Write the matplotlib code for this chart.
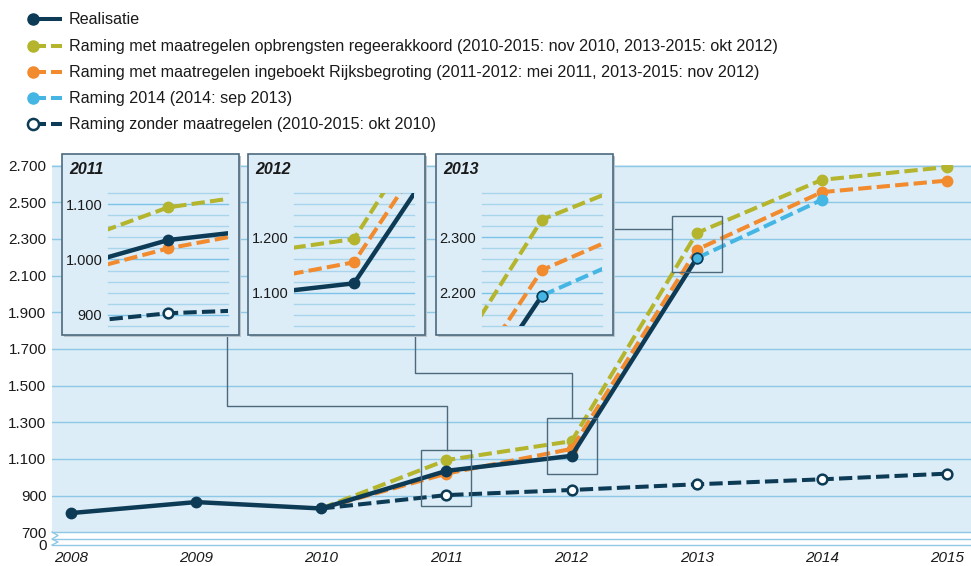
import matplotlib.pyplot as plt
from matplotlib.lines import Line2D
from matplotlib.patches import Rectangle

plt.rcParams['font.family'] = ['Liberation Sans Narrow', 'Liberation Sans', 'DejaVu Sans']

W, H = 971, 566

# --- data ---
jaren = [2008, 2009, 2010, 2011, 2012, 2013, 2014, 2015]
realisatie = [805, 865, 830, 1035, 1117, 2195]           # 2008-2013
regeerakkoord = [830, 1094, 1197, 2332, 2622, 2692]      # 2010-2015
rijksbegroting = [830, 1020, 1155, 2241, 2555, 2618]     # 2010-2015
raming_2014 = [2195, 2513]                               # 2013-2014
zonder = [830, 903, 931, 962, 989, 1020]                 # 2010-2015

legend_labels = [
    'Realisatie',
    'Raming met maatregelen opbrengsten regeerakkoord (2010-2015: nov 2010, 2013-2015: okt 2012)',
    'Raming met maatregelen ingeboekt Rijksbegroting (2011-2012: mei 2011, 2013-2015: nov 2012)',
    'Raming 2014 (2014: sep 2013)',
    'Raming zonder maatregelen (2010-2015: okt 2010)',
]
y_ticks = [700, 900, 1100, 1300, 1500, 1700, 1900, 2100, 2300, 2500, 2700]
inset_years = [2011, 2012, 2013]
inset_ylims = [(880, 1120), (1040, 1280), (2140, 2380)]
inset_labels = [[900, 1000, 1100], [1100, 1200], [2200, 2300]]
zoom_centers = [996, 1171, 2274]

NAVY = '#0d3b56'
GREEN = '#b4b52c'
ORANGE = '#f28a2e'
CYAN = '#45b6e4'
BG = '#dcedf7'
GRID = '#8fc8e6'
FRAME = '#4d6a7d'
LW = 2.9
DASH = (0, (3.3, 1.3))


def fmt(v):
    return f'{v:,}'.replace(',', '.')


def px(x, y):
    return x / W, 1 - y / H


def axes_px(fig, l, t, r, b):
    return fig.add_axes([l / W, 1 - b / H, (r - l) / W, (b - t) / H])


def draw_series(ax):
    ax.plot(jaren[2:], regeerakkoord, color=GREEN, lw=LW, ls=DASH, marker='o',
            ms=7.5, markevery=[1, 2, 3, 4, 5], zorder=3)
    ax.plot(jaren[2:], rijksbegroting, color=ORANGE, lw=LW, ls=DASH, marker='o',
            ms=7.5, markevery=[1, 2, 3, 4, 5], zorder=4)
    ax.plot(jaren[:6], realisatie, color=NAVY, lw=LW + 0.3, marker='o', ms=7.5,
            solid_capstyle='butt', zorder=5)
    ax.plot(jaren[2:], zonder, color=NAVY, lw=LW, ls=DASH, marker='o', ms=7,
            mfc='white', mec=NAVY, mew=1.8, markevery=[1, 2, 3, 4, 5], zorder=5.5)
    ax.plot(jaren[5:7], raming_2014, color=CYAN, lw=LW, ls=DASH, marker='o',
            ms=7.5, zorder=6)
    ax.plot(jaren[5], raming_2014[0], 'o', color=CYAN, mec=NAVY, mew=1.2,
            ms=7.5, zorder=6.5)


fig = plt.figure(figsize=(W / 100, H / 100), dpi=100)

# --- main chart ---
ax = axes_px(fig, 52, 165, 971, 547)
ax.set_xlim(2008 - 19 / 125.14, 2008 + 900 / 125.14)
ax.set_ylim(620, 2703)
ax.axhspan(700, 2703, color=BG, zorder=0)
for v in y_ticks:
    ax.axhline(v, color=GRID, lw=1, zorder=1)
ax.axhline(664, color=GRID, lw=1, zorder=1)
ax.axhline(631, color=GRID, lw=1, zorder=1)
for s in ax.spines.values():
    s.set_visible(False)
draw_series(ax)
ax.set_xticks(jaren)
ax.set_xticklabels([str(j) for j in jaren], fontstyle='italic', fontsize=11)
ax.set_yticks(y_ticks + [631])
ax.set_yticklabels([fmt(v) for v in y_ticks] + ['0'], fontsize=11)
ax.tick_params(length=0, pad=4, colors='#1a1a1a')
ax.tick_params(axis='x', pad=3)

# break marker at the bottom left
zig = [(52, 532), (58, 535.5), (52, 539), (58, 542), (52, 545)]
fig.add_artist(Line2D([px(*p)[0] for p in zig], [px(*p)[1] for p in zig],
                      color=GRID, lw=1))

# zoom boxes in main chart
for yr, c in zip(inset_years, zoom_centers):
    ax.add_patch(Rectangle((yr - 0.2, c - 153), 0.4, 306, fill=False,
                           ec=FRAME, lw=1, zorder=7))

# connectors (figure pixels)
connectors = [
    [(227, 336), (227, 406), (447, 406), (447, 450)],
    [(415, 336), (415, 373), (572, 373), (572, 418)],
    [(613, 229), (672, 229)],
]
for pts in connectors:
    fig.add_artist(Line2D([px(*p)[0] for p in pts], [px(*p)[1] for p in pts],
                          color=FRAME, lw=1, zorder=2))

# --- insets ---
frame_lefts = [62, 248, 436]
for yr, fl, ylim, labs in zip(inset_years, frame_lefts, inset_ylims, inset_labels):
    fx, fy = px(fl + 2, 337)
    fig.add_artist(Rectangle((fx, fy), 177 / W, 181 / H, transform=fig.transFigure,
                             fc='#b9c3ca', ec='none', zorder=8))
    fx, fy = px(fl, 335)
    fig.add_artist(Rectangle((fx, fy), 177 / W, 181 / H, transform=fig.transFigure,
                             fc=BG, ec=FRAME, lw=1.2, zorder=8.5))
    tx, ty = px(fl + 7, 169)
    fig.text(tx, ty, str(yr), fontsize=11.5, fontweight='bold', fontstyle='italic',
             va='center', ha='left', color='#1a1a1a', zorder=10)
    iax = axes_px(fig, fl + 46, 193, fl + 166, 326)
    iax.set_zorder(9)
    iax.patch.set_visible(False)
    iax.set_xlim(yr - 0.15, yr + 0.15)
    iax.set_ylim(*ylim)
    for v in range(ylim[0], ylim[1] + 1, 20):
        iax.axhline(v, color='#7cc3e8' if v % 100 == 0 else '#a9d5ec', lw=1,
                    zorder=1, clip_on=False)
    draw_series(iax)
    for s in iax.spines.values():
        s.set_visible(False)
    iax.set_xticks([])
    iax.set_yticks(labs)
    iax.set_yticklabels([fmt(v) for v in labs], fontsize=10.5)
    iax.tick_params(length=0, pad=4, colors='#1a1a1a')

# --- legend ---
legend_style = [
    (NAVY, False, NAVY),
    (GREEN, True, GREEN),
    (ORANGE, True, ORANGE),
    (CYAN, True, CYAN),
    (NAVY, True, 'white'),
]
rows = [19, 46, 72, 98, 124]
for lab, (col, dashed, face), y in zip(legend_labels, legend_style, rows):
    if dashed:
        segs = [(32, 46), (51, 62)]
    else:
        segs = [(32, 62)]
    for a, b in segs:
        fig.add_artist(Line2D([px(a, y)[0], px(b, y)[0]], [px(a, y)[1]] * 2,
                              color=col, lw=LW, solid_capstyle='butt'))
    fig.add_artist(Line2D([px(33, y)[0]], [px(33, y)[1]], marker='o', ms=8,
                          color=col, mfc=face, mec=col, mew=1.8 if face == 'white' else 1))
    tx, ty = px(69, y)
    fig.text(tx, ty, lab, fontsize=11.65, va='center', ha='left', color='#1a1a1a')

fig.savefig('out.png', dpi=100)
